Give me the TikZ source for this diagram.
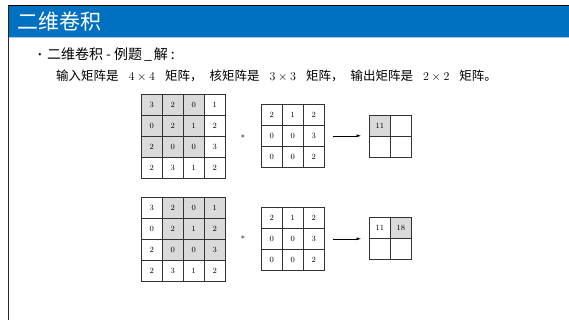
\documentclass[tikz,border=0pt]{standalone}
\usepackage{fontspec}
\newfontfamily\cjk{Noto Sans CJK SC}
\usetikzlibrary{arrows.meta,calc}
\definecolor{titleblue}{RGB}{0,112,192}
\definecolor{cellgray}{RGB}{218,218,218}
\newcommand{\dimx}[1]{\hspace{10pt}{\fontsize{13}{13}\selectfont$#1$}\hspace{10pt}}
\newcommand{\cma}{，\hspace{7pt}}
\begin{document}
\begin{tikzpicture}[x=1pt,y=-1pt,
  cell/.style={draw=black!80, line width=0.6pt, minimum size=21pt, inner sep=0pt,
    font=\fontsize{8}{8}\selectfont, anchor=north west},
  conn/.style={line width=0.5pt, -{Latex[length=4.5pt,width=3pt]}},
  star/.style={font=\fontsize{8}{8}\selectfont, inner sep=0pt}]
\useasboundingbox (0,0) rectangle (569,320);
\fill[white] (0,0) rectangle (569,320);
% title bar
\fill[titleblue] (9,6.5) rectangle (569,37);
\draw[titleblue!35, line width=0.8pt] (9,37.8) -- (569,37.8);
\draw[black, line width=1.3pt] (8,5.6) -- (569,5.6);
\draw[black!85, line width=1.6pt] (8.6,5) -- (8.6,320);
\node[anchor=west, text=white, font=\cjk\fontsize{21}{21}\selectfont, inner sep=0pt] (title) at (17,21.5) {二维卷积};
% text
\node[font=\fontsize{8}{8}\selectfont, inner sep=0pt] (bullet) at (40,55.5) {\textbullet};
\node[anchor=west, font=\cjk\fontsize{14}{14}\selectfont, inner sep=0pt] (l1) at (47,55) {二维卷积\hspace{3pt}-\hspace{3pt}例题\hspace{2pt}\_\hspace{2pt}解\hspace{3pt}:};
\node[anchor=west, font=\cjk\fontsize{12.5}{13}\selectfont, inner sep=0pt] (l2) at (56,76) {输入矩阵是\dimx{4\times4}矩阵\cma 核矩阵是\dimx{3\times3}矩阵\cma 输出矩阵是\dimx{2\times2}矩阵。};
% shaded windows
\fill[cellgray] (141,94) rectangle (204,157);
\fill[cellgray] (162,197) rectangle (225,260);
\fill[cellgray] (369,115) rectangle (390,136);
\fill[cellgray] (390,217) rectangle (411,238);
% input matrices
\foreach \row [count=\r] in {{3,2,0,1},{0,2,1,2},{2,0,0,3},{2,3,1,2}} {
  \foreach \v [count=\c] in \row {
    \node[cell] (A\r\c) at ({141+21*(\c-1)},{94+21*(\r-1)}) {\v};
    \node[cell] (B\r\c) at ({141+21*(\c-1)},{197+21*(\r-1)}) {\v};
  }
}
% kernels
\foreach \row [count=\r] in {{2,1,2},{0,0,3},{0,0,2}} {
  \foreach \v [count=\c] in \row {
    \node[cell] (K\r\c) at ({261+21*(\c-1)},{104+21*(\r-1)}) {\v};
    \node[cell] (L\r\c) at ({261+21*(\c-1)},{207+21*(\r-1)}) {\v};
  }
}
% outputs
\node[cell] (O11) at (369,115) {11};
\node[cell] (O12) at (390,115) {};
\node[cell] (O21) at (369,136) {};
\node[cell] (O22) at (390,136) {};
\node[cell] (P11) at (369,217) {11};
\node[cell] (P12) at (390,217) {18};
\node[cell] (P21) at (369,238) {};
\node[cell] (P22) at (390,238) {};
% stars
\node[star] (s1) at (243,137) {$*$};
\node[star] (s2) at (243,238) {$*$};
% arrows
\draw[conn] ($(K23.east)+(8,0)$) -- ($(O11.west |- K23.east)+(-8,0)$);
\draw[conn] ($(L23.east)+(8,0)$) -- ($(P11.west |- L23.east)+(-8,0)$);
\end{tikzpicture}
\end{document}
